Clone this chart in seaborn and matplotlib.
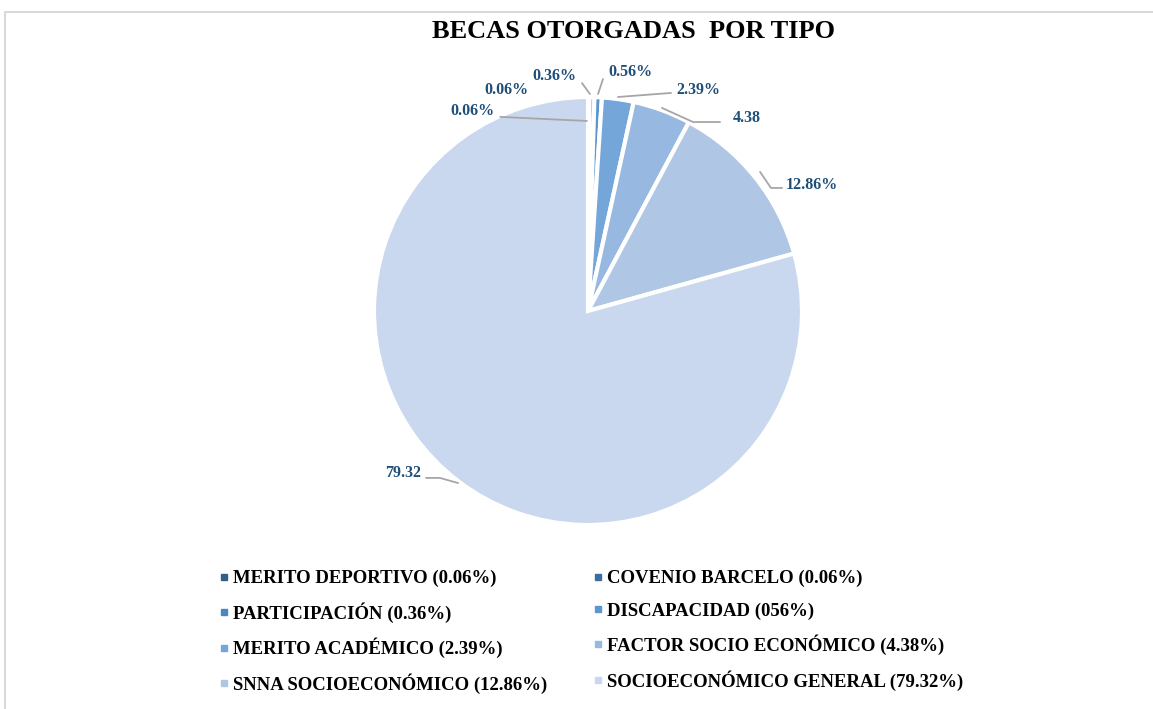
import matplotlib
matplotlib.use("Agg")
import matplotlib.pyplot as plt
from matplotlib.lines import Line2D
from matplotlib.patches import Rectangle
import seaborn as sns

# ---------------- data ----------------
categories = ["MERITO DEPORTIVO", "COVENIO BARCELO", "PARTICIPACIÓN", "DISCAPACIDAD",
              "MERITO ACADÉMICO", "FACTOR SOCIO ECONÓMICO", "SNNA SOCIOECONÓMICO",
              "SOCIOECONÓMICO GENERAL"]
values = [0.06, 0.06, 0.36, 0.56, 2.39, 4.38, 12.86, 79.32]
slice_labels = ["0.06%", "0.06%", "0.36%", "0.56%", "2.39%", "4.38", "12.86%", "79.32"]
legend_labels = ["MERITO DEPORTIVO (0.06%)", "COVENIO BARCELO (0.06%)",
                 "PARTICIPACIÓN (0.36%)", "DISCAPACIDAD (056%)",
                 "MERITO ACADÉMICO (2.39%)", "FACTOR SOCIO ECONÓMICO (4.38%)",
                 "SNNA SOCIOECONÓMICO (12.86%)", "SOCIOECONÓMICO GENERAL (79.32%)"]
title = "BECAS OTORGADAS  POR TIPO"

colors = ["#2F5F8A", "#3A6E9F", "#4A86C0", "#5B96CF", "#74A6DA", "#97B8E0",
          "#AFC6E5", "#C9D8EE"]

# label text positions and leader polylines (pie radius units)
label_pos = [(-0.54, 0.935), (-0.38, 1.033), (-0.155, 1.098), (0.196, 1.117),
             (0.514, 1.033), (0.743, 0.902), (1.047, 0.589), (-0.864, -0.757)]
leaders = [
    [(-0.41, 0.907), (-0.005, 0.888)],
    None,
    [(-0.028, 1.065), (0.009, 1.014)],
    [(0.070, 1.084), (0.047, 1.014)],
    [(0.140, 1.000), (0.388, 1.019)],
    [(0.346, 0.949), (0.491, 0.883), (0.617, 0.883)],
    [(0.804, 0.650), (0.855, 0.575), (0.907, 0.575)],
    [(-0.757, -0.780), (-0.692, -0.780), (-0.607, -0.804)],
]

# ---------------- style ----------------
sns.set_theme(style="white")
plt.rcParams["font.family"] = ["Liberation Serif", "DejaVu Serif"]

W, H = 1153, 709
fig = plt.figure(figsize=(W / 100, H / 100), dpi=100)
fig.patch.set_facecolor("white")

# outer frame
fig.patches.append(Rectangle((5 / W, -0.01), 1.2, (H - 12) / H + 0.01,
                             transform=fig.transFigure, fill=False,
                             edgecolor="#D9D9D9", linewidth=1.5))

cx, cy, r = 588, 311, 214
ax = fig.add_axes([(cx - r) / W, (H - cy - r) / H, 2 * r / W, 2 * r / H])
ax.axis("off")

ax.pie(values, colors=colors, startangle=90, counterclock=False, radius=1,
       wedgeprops=dict(edgecolor="white", linewidth=3))
ax.set_xlim(-1, 1)
ax.set_ylim(-1, 1)
ax.set_aspect("auto")

for txt, pos, ld in zip(slice_labels, label_pos, leaders):
    ax.text(pos[0], pos[1], txt, ha="center", va="center", fontsize=11.5,
            fontweight="bold", color="#1F4E79", clip_on=False)
    if ld:
        xs, ys = zip(*ld)
        ax.plot(xs, ys, color="#A6A6A6", linewidth=1.3, clip_on=False)

fig.text(634 / W, 1 - 32 / H, title, ha="center", va="center",
         fontsize=19, fontweight="bold", color="black")

# legend, row-wise order in two columns
handles = [Line2D([], [], linestyle="none", marker="s", markersize=4.5,
                  markerfacecolor=c, markeredgecolor=c) for c in colors]
order = [0, 2, 4, 6, 1, 3, 5, 7]
leg = fig.legend([handles[i] for i in order], [legend_labels[i] for i in order],
                 ncol=2, loc="upper left", bbox_to_anchor=(203 / W, 1 - 553 / H),
                 frameon=False, handlelength=0.4, handletextpad=0.3,
                 columnspacing=2.5, labelspacing=0.8, labelcolor="black",
                 prop=dict(family="Liberation Serif", weight="bold", size=13.5))

fig.savefig("out.png", dpi=100, facecolor="white")
